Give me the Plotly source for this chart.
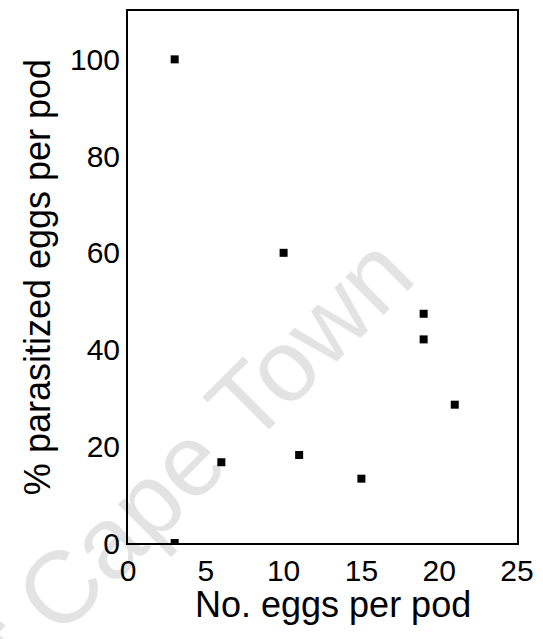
import plotly.graph_objects as go

# Eggs per pod and percentage of those eggs parasitized
eggs_per_pod = [3, 10, 6, 11, 15, 19, 19, 21, 3]
pct_parasitized = [100, 60, 16.7, 18.2, 13.3, 47.4, 42.1, 28.6, 0]

x_ticks = [0, 5, 10, 15, 20, 25]
y_ticks = [0, 20, 40, 60, 80, 100]

FONT = "Liberation Sans, Arial, sans-serif"

fig = go.Figure(
    go.Scatter(
        x=eggs_per_pod,
        y=pct_parasitized,
        mode="markers",
        marker=dict(symbol="square", size=8, color="black", line=dict(width=0)),
        cliponaxis=True,
        showlegend=False,
    )
)

axis_common = dict(
    showgrid=False,
    zeroline=False,
    showline=True,
    linecolor="black",
    linewidth=2,
    mirror=True,
    ticks="",
    tickfont=dict(family=FONT, size=30, color="black"),
)

fig.update_xaxes(
    range=[0, 25],
    tickvals=x_ticks,
    ticktext=[str(v) for v in x_ticks],
    **axis_common,
)
fig.update_yaxes(
    range=[0, 110],
    tickvals=y_ticks,
    ticktext=[str(v) for v in y_ticks],
    title=dict(text="% parasitized eggs per pod", font=dict(family=FONT, size=36, color="black"), standoff=8),
    **axis_common,
)

# x-axis title, set slightly right of the plot centre
fig.add_annotation(
    text="No. eggs per pod",
    xref="paper", yref="paper",
    x=0.528, y=-0.116,
    xanchor="center", yanchor="middle",
    showarrow=False,
    font=dict(family=FONT, size=36, color="black"),
)

# Faint diagonal watermark
fig.add_annotation(
    text="of Cape Town",
    xref="paper", yref="paper",
    x=0.118, y=0.128,
    xanchor="center", yanchor="middle",
    textangle=-45,
    showarrow=False,
    font=dict(family=FONT, size=102, color="rgba(0,0,0,0.11)"),
)

fig.update_layout(
    width=543,
    height=639,
    margin=dict(l=128, r=21, t=9, b=96),
    paper_bgcolor="white",
    plot_bgcolor="white",
)

fig.write_html("out.html")
